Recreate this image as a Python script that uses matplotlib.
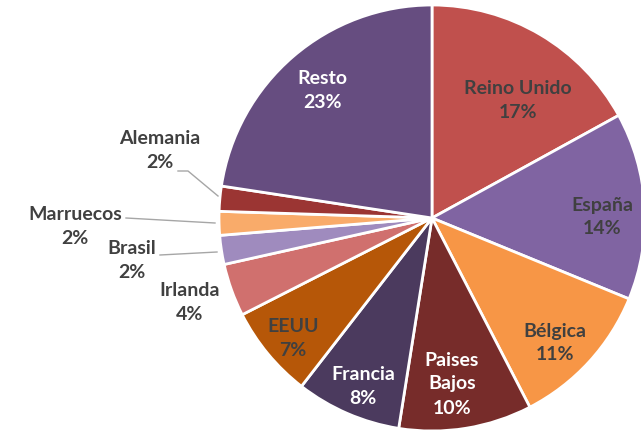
import matplotlib
matplotlib.use("Agg")
import matplotlib.pyplot as plt

# export share by country (clockwise from 12 o'clock)
countries = ["Reino Unido", "España", "Bélgica", "Paises\nBajos", "Francia", "EEUU",
             "Irlanda", "Brasil", "Marruecos", "Alemania", "Resto"]
shares = [17.0, 14.2, 11.2, 10.1, 8.0, 7.0, 4.0, 2.2, 1.8, 1.9, 22.6]
colors = ["#C0504D", "#8064A2", "#F79646", "#772C2A", "#4B3A5E", "#B65708",
          "#D0706E", "#9F8BBE", "#F9AB6A", "#9B3533", "#664D80"]
text_colors = ["#404040", "#404040", "#404040", "white", "white", "#404040",
               "#404040", "#404040", "#404040", "#404040", "white"]

W, H = 641, 433
CX, CY, R = 432, 218, 213

# label centres in pixels (image coords)
label_px = [(518, 100), (602, 217), (555, 343), (452, 384), (363, 387), (293, 338),
            (190, 303), (132, 261), (75, 227), (160, 150), (322, 90)]
# leader lines for the outside labels: (index, list of pixel points)
leaders = {9: [(178, 171), (188, 171), (218, 196)],
           8: [(126, 218), (215, 223)],
           7: [(160, 255), (217, 252)]}


def to_data(px, py):
    return (px - CX) / R, (CY - py) / R


fig = plt.figure(figsize=(W / 100, H / 100), dpi=100)
ax = fig.add_axes([(CX - R) / W, (H - CY - R) / H, 2 * R / W, 2 * R / H])
ax.pie(shares, colors=colors, startangle=90, counterclock=False, radius=1,
       wedgeprops=dict(edgecolor="white", linewidth=2))
ax.set_xlim(-1, 1)
ax.set_ylim(-1, 1)
ax.set_aspect("equal")
ax.axis("off")

for i, (name, val) in enumerate(zip(countries, shares)):
    x, y = to_data(*label_px[i])
    ax.text(x, y, f"{name}\n{val:.0f}%", ha="center", va="center", color=text_colors[i],
            fontsize=14, fontweight="bold", family=["Lato", "DejaVu Sans"],
            linespacing=1.5, clip_on=False)

for i, pts in leaders.items():
    xs, ys = zip(*[to_data(*p) for p in pts])
    ax.plot(xs, ys, color="#A6A6A6", lw=1, clip_on=False)

fig.savefig("out.png", dpi=100)
